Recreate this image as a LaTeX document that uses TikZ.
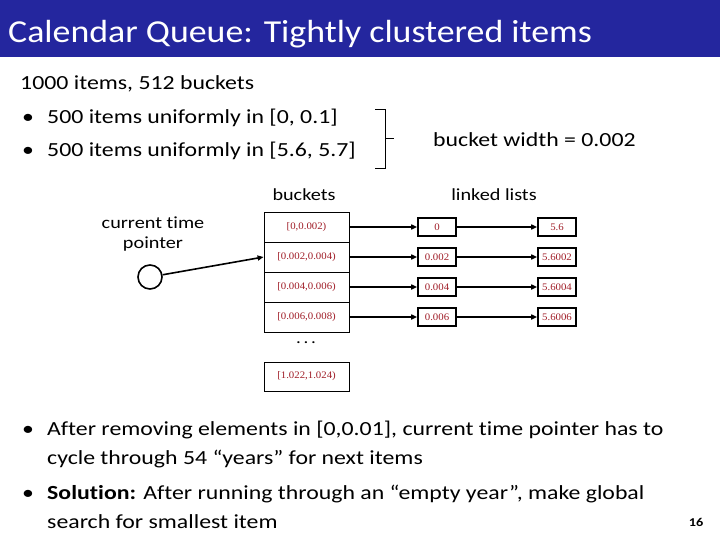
\documentclass[tikz,border=0pt]{standalone}
\usepackage{fontspec}
\setmainfont{Carlito}[FakeStretch=1.19, Ligatures={NoCommon}]
\newfontfamily\titlefont{Carlito}[FakeStretch=1.12, Ligatures={NoCommon}]
\newfontfamily\serifnum{Liberation Serif}[FakeStretch=1.08]
\usetikzlibrary{arrows.meta}
\definecolor{titleblue}{RGB}{36,38,158}
\definecolor{numred}{RGB}{160,30,40}
\tikzset{
  body/.style={anchor=base west, font=\fontsize{20}{24}\selectfont, inner sep=0pt},
  bucket/.style={draw, line width=0.8pt, minimum width=85pt, minimum height=30pt, inner sep=0pt, font=\serifnum\fontsize{10}{12}\selectfont, text=numred},
  item/.style={draw, line width=1.6pt, minimum width=38pt, minimum height=18pt, inner sep=0pt, font=\serifnum\fontsize{10}{12}\selectfont, text=numred},
  link/.style={line width=1.6pt, -{Triangle[length=6pt,width=5pt]}},
  lbl/.style={font=\fontsize{17}{21}\selectfont, inner sep=0pt}
}
\begin{document}
\begin{tikzpicture}[x=1pt,y=-1pt]
\useasboundingbox (0,0) rectangle (720,540);
\fill[titleblue] (0,0) rectangle (720,57);
\node[anchor=base west, text=white, font=\titlefont\fontsize{32}{36}\selectfont, inner sep=0pt] (title) at (8,43) {Calendar Queue: Tightly clustered items};

\node[body] (t1) at (20,90) {1000 items, 512 buckets};
\node[body] (t2b) at (22,124) {\textbullet};
\node[body] (t2) at (47,124) {500 items uniformly in [0, 0.1]};
\node[body] (t3b) at (22,157) {\textbullet};
\node[body] (t3) at (47,157) {500 items uniformly in [5.6, 5.7]};

\coordinate (brtop) at (375,110);
\coordinate (brbot) at (375,169);
\draw[line width=1pt] (brtop) -- (385,110) -- (385,169) -- (brbot);
\draw[line width=1pt] (385,139) -- (394,139);
\node[anchor=west, inner sep=0pt, font=\fontsize{20}{24}\selectfont] (bw) at (433,140) {bucket width = 0.002};

\node[lbl] (bl) at (304,195) {buckets};
\node[lbl] (ll) at (494,195) {linked lists};
\node[lbl, align=center] (ctp) at (153,234) {current time\\[-1pt]pointer};

\node[bucket] (b1) at (306.5,227) {[0,0.002)};
\node[bucket] (b2) at (306.5,257) {[0.002,0.004)};
\node[bucket] (b3) at (306.5,287) {[0.004,0.006)};
\node[bucket] (b4) at (306.5,317) {[0.006,0.008)};
\node[font=\fontsize{16}{16}\selectfont] (dots) at (306,343) {.\,.\,.};
\node[bucket, minimum height=29pt] (bl2) at (306.5,376.5) {[1.022,1.024)};

\node[draw, circle, line width=1.6pt, minimum size=24pt, inner sep=0pt] (ptr) at (150,277) {};
\draw[link] (ptr) -- (b2.west);

\node[item] (a1) at (437,227) {0};
\node[item] (c1) at (557,227) {5.6};
\node[item] (a2) at (437,257) {0.002};
\node[item] (c2) at (557,257) {5.6002};
\node[item] (a3) at (437,287) {0.004};
\node[item] (c3) at (557,287) {5.6004};
\node[item] (a4) at (437,317) {0.006};
\node[item] (c4) at (557,317) {5.6006};
\foreach \i in {1,2,3,4}{
  \draw[link] (b\i.east) -- (a\i.west);
  \draw[link] (a\i.east) -- (c\i.west);
}

\node[body] (u1b) at (22,435) {\textbullet};
\node[body] (u1) at (47,435) {After removing elements in [0,0.01], current time pointer has to};
\node[body] (u2) at (47,464) {cycle through 54 “years” for next items};
\node[body] (u3b) at (22,499) {\textbullet};
\node[body] (u3) at (47,499) {\textbf{Solution:} After running through an “empty year”, make global};
\node[body] (u4) at (47,528) {search for smallest item};
\node[anchor=base, font=\bfseries\fontsize{12}{14}\selectfont, inner sep=0pt] (pg) at (696,526) {16};
\end{tikzpicture}
\end{document}
